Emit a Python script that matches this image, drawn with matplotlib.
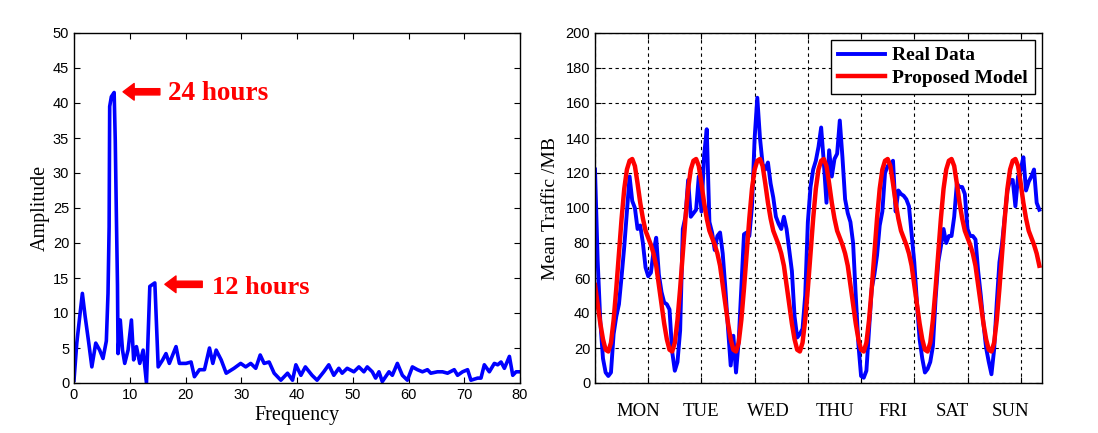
import numpy as np
import matplotlib
matplotlib.use("Agg")
import matplotlib.pyplot as plt
from matplotlib.transforms import blended_transform_factory

# ---------------- data: left panel (spectrum) ----------------
freq = [0, 0.5, 1.1, 1.5, 2, 2.6, 3.2, 3.9, 4.6, 5.2, 5.8, 6.1, 6.3, 6.4, 6.7, 7.2, 7.4,
        7.6, 7.8, 7.9, 8.3, 8.7, 9.1, 9.7, 10.3, 10.7, 11.2, 11.8, 12.4, 13.0, 13.6, 14.5,
        15.1, 15.9, 16.5, 17.1, 18.3, 18.9, 20.1, 21.0, 21.6, 22.5, 23.4, 24.3, 24.9, 25.5,
        26.4, 27.3, 28.7, 29.9, 30.8, 31.7, 32.6, 33.4, 34.1, 35.0, 35.9, 37.1, 38.3, 39.2,
        39.8, 40.7, 41.5, 42.7, 43.6, 44.8, 45.7, 46.6, 47.5, 48.1, 49.0, 50.2, 51.1, 52.0,
        52.6, 53.5, 54.1, 54.7, 55.3, 56.5, 57.1, 58.0, 58.9, 59.8, 60.7, 61.6, 62.5, 63.4,
        64.0, 65.2, 66.1, 67.0, 68.2, 68.8, 69.7, 70.6, 71.2, 72.4, 73.0, 73.6, 74.5, 75.4,
        76.0, 76.6, 77.2, 78.1, 78.7, 79.3, 80.0]
amplitude = [0.4, 5.7, 10, 12.8, 9.5, 6, 2.3, 5.7, 4.7, 3.5, 6, 12.8, 22.3, 39.5, 40.9, 41.5, 34.7,
             24, 14, 4.2, 9, 4.7, 2.8, 4.7, 9, 3.3, 5.2, 2.8, 4.7, 0, 13.8, 14.3,
             2.3, 3.3, 4.2, 2.8, 5.2, 2.8, 2.8, 3, 0.9, 1.9, 1.9, 5, 2.8, 4.7,
             3.3, 1.4, 2.1, 2.8, 2.3, 2.8, 2.1, 4, 2.8, 3, 1.4, 0.4, 1.4, 0.4,
             2.6, 1.1, 2.3, 1.1, 0.4, 1.6, 2.6, 1.1, 2.1, 1.4, 2.1, 1.6, 2.3, 1.6,
             2.3, 1.6, 0.7, 1.6, 0.2, 1.6, 1.1, 2.8, 1.1, 0.4, 2.3, 1.9, 1.6, 1.9,
             1.4, 1.6, 1.6, 1.4, 1.9, 1.1, 1.6, 1.9, 0.4, 0.7, 0.7, 2.6, 1.6, 2.8,
             2.6, 3, 2.1, 3.8, 1.1, 1.6, 1.6]

# ---------------- data: right panel (weekly traffic) ----------------
real_data = [122, 70, 35, 14, 6, 4, 6, 28, 38, 45, 61, 78, 98, 118, 104, 100, 88, 90, 80, 66,
             61, 63, 75, 83, 62, 52, 46, 45, 42, 18, 7, 12, 30, 88, 95, 116, 95, 97, 99, 118,
             98, 130, 145, 92, 86, 76, 84, 86, 74, 54, 31, 10, 27, 6, 24, 55, 85, 86, 84, 101,
             140, 163, 140, 125, 122, 126, 114, 106, 95, 91, 88, 95, 88, 76, 64, 38, 26, 28, 31, 50,
             92, 112, 122, 127, 135, 146, 126, 103, 133, 118, 128, 131, 150, 129, 105, 97, 92, 80, 50, 22,
             4, 3, 7, 31, 54, 62, 73, 90, 98, 120, 124, 125, 127, 98, 110, 108, 107, 105, 101, 85,
             69, 46, 25, 14, 6, 8, 12, 21, 48, 69, 78, 88, 80, 84, 84, 95, 114, 112, 112, 108,
             88, 84, 84, 82, 64, 50, 34, 20, 12, 5, 19, 46, 69, 80, 95, 110, 116, 116, 101, 118,
             122, 129, 110, 115, 118, 122, 103, 99]
model_daily_profile = [56, 45, 34, 25, 19, 18, 23, 36, 54, 74, 94, 111, 122, 127, 128, 124,
                       114, 103, 94, 87, 83, 79, 74, 67]
n_days = 7
day_labels = ["MON", "TUE", "WED", "THU", "FRI", "SAT", "SUN"]
day_label_pos = [16.2, 40, 65, 90.2, 112, 134.5, 156]

hours = np.arange(len(real_data))
model = np.tile(model_daily_profile, n_days)

# ---------------- figure ----------------
plt.rcParams['font.family'] = ['Liberation Sans', 'DejaVu Sans']
fig = plt.figure(figsize=(10.98, 4.33), dpi=100)

serif = 'Liberation Serif'

# Left panel
ax1 = fig.add_axes([74/1098, 50/433, 446/1098, 350/433])
ax1.plot(freq, amplitude, color='#0000ff', lw=2.6)
ax1.set_xlim(0, 80)
ax1.set_ylim(0, 50)
ax1.set_xticks(np.arange(0, 81, 10))
ax1.set_yticks(np.arange(0, 51, 5))
ax1.tick_params(direction='in', top=True, right=True, labelsize=10.5, length=4)
ax1.set_xlabel('Frequency', family=serif, fontsize=14.5, labelpad=3)
ax1.set_ylabel('Amplitude', family=serif, fontsize=14.5, labelpad=2)
arrow_kw = dict(facecolor='#ff0000', edgecolor='#ff0000', width=4.5, headwidth=12,
                headlength=8, shrink=0)
ax1.annotate('', xy=(8.8, 41.6), xytext=(15.4, 41.6), arrowprops=arrow_kw)
ax1.text(16.9, 41.3, '24 hours', color='#ff0000', family=serif, fontsize=19.5,
         fontweight='bold', va='center', ha='left')
ax1.annotate('', xy=(16.3, 14.1), xytext=(23.0, 14.1), arrowprops=arrow_kw)
ax1.text(24.8, 13.7, '12 hours', color='#ff0000', family=serif, fontsize=19,
         fontweight='bold', va='center', ha='left')

# Right panel
ax2 = fig.add_axes([595/1098, 50/433, 447/1098, 350/433])
ax2.plot(hours, real_data, color='#0000ff', lw=2.8, label='Real Data')
ax2.plot(np.arange(len(model)), model, color='#ff0000', lw=3.2, label='Proposed Model')
ax2.set_xlim(0, 168)
ax2.set_ylim(0, 200)
ax2.set_xticks(np.arange(0, 168, 20))
ax2.set_xticklabels([])
ax2.set_yticks(np.arange(0, 201, 20))
ax2.tick_params(direction='in', top=True, right=True, labelsize=10.5, length=4)
ax2.grid(True, color='black', linestyle=(0, (3, 3)), linewidth=0.8)
ax2.set_ylabel('Mean Traffic /MB', family=serif, fontsize=14, labelpad=5)
trans = blended_transform_factory(ax2.transData, ax2.transAxes)
for lab, pos in zip(day_labels, day_label_pos):
    ax2.text(pos, -0.08, lab, transform=trans, ha='center', va='center',
             family=serif, fontsize=13.5)
leg = ax2.legend(loc='upper right', prop={'family': serif, 'weight': 'bold', 'size': 14},
                 fancybox=False, framealpha=1, edgecolor='black', handlelength=2.4,
                 borderpad=0.35, labelspacing=0.25, handletextpad=0.4,
                 borderaxespad=0, bbox_to_anchor=(0.984, 0.98))
leg.get_frame().set_linewidth(1.0)

for ax in (ax1, ax2):
    for s in ax.spines.values():
        s.set_linewidth(1.0)

fig.savefig('out.png', dpi=100)
